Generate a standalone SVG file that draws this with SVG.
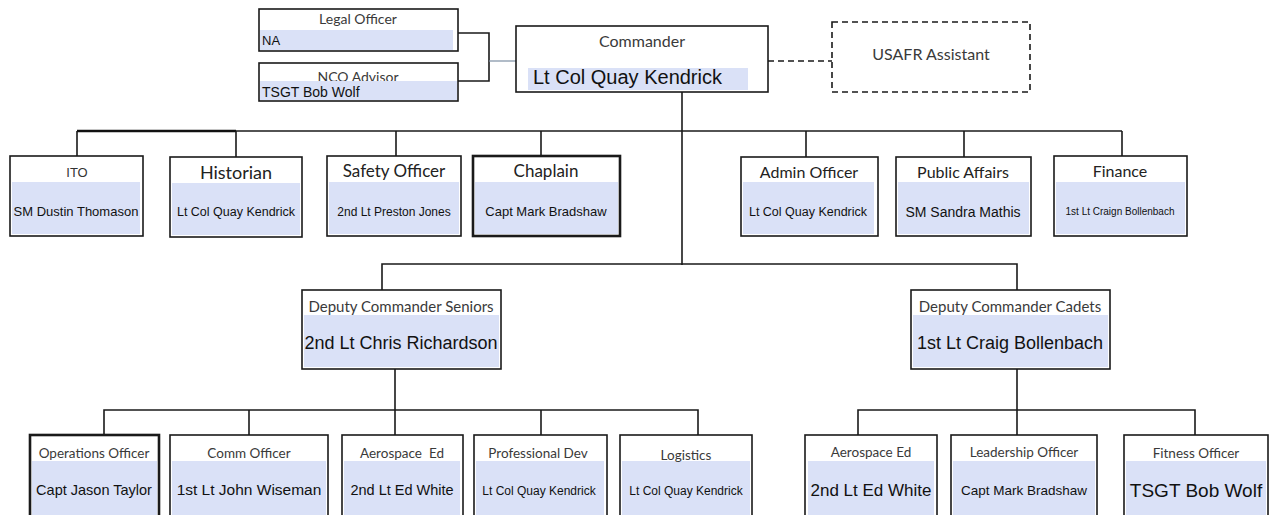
<svg xmlns="http://www.w3.org/2000/svg" width="1274" height="515" viewBox="0 0 1274 515">
<defs>
<style>
.box{fill:#fff;stroke:#1a1a1a;stroke-width:1.6}
.thick{stroke-width:2.6}
.fill{fill:#dae1f7}
.hd{font-family:Lato,"Open Sans",sans-serif;fill:#3a3a3a;text-anchor:middle}
.nm{font-family:"Liberation Sans",Arial,sans-serif;fill:#111;text-anchor:middle}
.st{text-anchor:start}
.ln{fill:none;stroke:#1a1a1a;stroke-width:1.6}
</style>
</defs>
<rect width="1274" height="515" fill="#fff"/>
<g id="connectors">
<path class="ln" d="M453 33H489V81H458"/>
<path d="M489 61H516" fill="none" stroke="#7d8fa3" stroke-width="1.2"/>
<path class="ln" d="M768 61H832" stroke-dasharray="6 4"/>
<path class="ln" d="M682 92V265"/>
<path d="M77 131H236" fill="none" stroke="#111" stroke-width="2.6"/>
<path class="ln" d="M236 131H1122" stroke="#333"/>
<path class="ln" d="M77 131V156M236 131V157M396 131V156M541 131V156M806 131V157M964 131V157M1122 131V156"/>
<path class="ln" d="M382 290V264H1017V290"/>
<path class="ln" d="M395 369V410M104 435V410H698V435M249 410V435M395 410V435M541 410V435"/>
<path class="ln" d="M1017 369V435M858 435V410H1195V435"/>
</g>
<g id="legal">
<rect class="box" x="259" y="9" width="199" height="42"/>
<rect class="fill" x="260" y="30" width="193" height="20"/>
<text class="hd" x="358" y="24" font-size="14">Legal Officer</text>
<text class="nm st" x="262" y="45" font-size="13">NA</text>
</g>
<g id="nco">
<rect class="box" x="259" y="63" width="199" height="38"/>
<text class="hd" x="358" y="82" font-size="14">NCO Advisor</text>
<rect class="fill" x="260" y="81" width="197" height="19"/>
<text class="nm st" x="262" y="97" font-size="14">TSGT Bob Wolf</text>
</g>
<g id="commander">
<rect class="box" x="516" y="26" width="252" height="66"/>
<rect class="fill" x="528" y="68" width="220" height="22"/>
<text class="hd" x="642" y="47" font-size="16">Commander</text>
<text class="nm st" x="533" y="84" font-size="20">Lt Col Quay Kendrick</text>
</g>
<g id="usafr">
<rect x="832" y="22" width="198" height="70" fill="#fff" stroke="#1a1a1a" stroke-width="1.6" stroke-dasharray="6 4"/>
<text class="hd" x="931" y="60" font-size="16">USAFR Assistant</text>
</g>
<g id="ito">
<rect class="box" x="10" y="156" width="133" height="80"/>
<rect class="fill" x="12" y="182" width="128" height="52"/>
<text class="nm" x="77" y="177" font-size="13" style="fill:#333">ITO</text>
<text class="nm" x="76" y="216" font-size="13">SM Dustin Thomason</text>
</g>
<g id="historian">
<rect class="box" x="170" y="157" width="132" height="80"/>
<rect class="fill" x="172" y="183" width="128" height="52"/>
<text class="hd" x="236" y="179" font-size="18" style="fill:#222">Historian</text>
<text class="nm" x="236" y="216" font-size="12.5">Lt Col Quay Kendrick</text>
</g>
<g id="safety">
<rect class="box" x="327" y="156" width="134" height="80"/>
<rect class="fill" x="329" y="182" width="130" height="52"/>
<text class="hd" x="394" y="177" font-size="17" style="fill:#222">Safety Officer</text>
<text class="nm" x="394" y="216" font-size="12">2nd Lt Preston Jones</text>
</g>
<g id="chaplain">
<rect class="box thick" x="473" y="156" width="147" height="80"/>
<rect class="fill" x="475" y="182" width="143" height="52"/>
<text class="hd" x="546" y="177" font-size="17" style="fill:#222">Chaplain</text>
<text class="nm" x="546" y="216" font-size="13">Capt Mark Bradshaw</text>
</g>
<g id="admin">
<rect class="box" x="741" y="157" width="137" height="79"/>
<rect class="fill" x="743" y="182" width="131" height="52"/>
<text class="hd" x="809" y="178" font-size="16" style="fill:#222">Admin Officer</text>
<text class="nm" x="808" y="216" font-size="12.5">Lt Col Quay Kendrick</text>
</g>
<g id="publicaffairs">
<rect class="box" x="896" y="157" width="135" height="79"/>
<rect class="fill" x="898" y="182" width="131" height="52"/>
<text class="hd" x="963" y="178" font-size="16" style="fill:#222">Public Affairs</text>
<text class="nm" x="963" y="217" font-size="14">SM Sandra Mathis</text>
</g>
<g id="finance">
<rect class="box" x="1054" y="156" width="133" height="80"/>
<rect class="fill" x="1056" y="182" width="129" height="52"/>
<text class="hd" x="1120" y="177" font-size="16" style="fill:#222">Finance</text>
<text class="nm" x="1120" y="215" font-size="10">1st Lt Craign Bollenbach</text>
</g>
<g id="dep-seniors">
<rect class="box" x="302" y="290" width="199" height="79"/>
<rect class="fill" x="304" y="315" width="195" height="52"/>
<text class="hd" x="401" y="312" font-size="15">Deputy Commander Seniors</text>
<text class="nm" x="401" y="349" font-size="18">2nd Lt Chris Richardson</text>
</g>
<g id="dep-cadets">
<rect class="box" x="911" y="290" width="199" height="79"/>
<rect class="fill" x="913" y="315" width="195" height="52"/>
<text class="hd" x="1010" y="312" font-size="15">Deputy Commander Cadets</text>
<text class="nm" x="1010" y="349" font-size="18">1st Lt Craig Bollenbach</text>
</g>
<g id="operations">
<rect class="box thick" x="30" y="435" width="129" height="90"/>
<rect class="fill" x="32" y="461" width="125" height="60"/>
<text class="hd" x="94" y="458" font-size="13.5">Operations Officer</text>
<text class="nm" x="94" y="495" font-size="14.5">Capt Jason Taylor</text>
</g>
<g id="comm">
<rect class="box" x="170" y="435" width="158" height="90"/>
<rect class="fill" x="172" y="461" width="154" height="60"/>
<text class="hd" x="249" y="458" font-size="13.5">Comm Officer</text>
<text class="nm" x="249" y="495" font-size="15.5">1st Lt John Wiseman</text>
</g>
<g id="aero-seniors">
<rect class="box" x="342" y="435" width="121" height="90"/>
<rect class="fill" x="344" y="461" width="116" height="60"/>
<text class="hd" x="402" y="458" font-size="13.5" xml:space="preserve">Aerospace  Ed</text>
<text class="nm" x="402" y="495" font-size="14.5">2nd Lt Ed White</text>
</g>
<g id="profdev">
<rect class="box" x="474" y="435" width="133" height="90"/>
<rect class="fill" x="476" y="461" width="128" height="60"/>
<text class="hd" x="538" y="458" font-size="13.5">Professional Dev</text>
<text class="nm" x="539" y="495" font-size="12">Lt Col Quay Kendrick</text>
</g>
<g id="logistics">
<rect class="box" x="620" y="435" width="132" height="90"/>
<rect class="fill" x="622" y="461" width="128" height="60"/>
<text class="hd" x="686" y="460" font-size="13.5">Logistics</text>
<text class="nm" x="686" y="495" font-size="12">Lt Col Quay Kendrick</text>
</g>
<g id="aero-cadets">
<rect class="box" x="805" y="435" width="132" height="90"/>
<rect class="fill" x="808" y="461" width="126" height="60"/>
<text class="hd" x="871" y="457" font-size="13.5">Aerospace Ed</text>
<text class="nm" x="871" y="496" font-size="17">2nd Lt Ed White</text>
</g>
<g id="leadership">
<rect class="box" x="951" y="435" width="146" height="90"/>
<rect class="fill" x="953" y="461" width="142" height="60"/>
<text class="hd" x="1024" y="457" font-size="13.5">Leadership Officer</text>
<text class="nm" x="1024" y="495" font-size="13.5">Capt Mark Bradshaw</text>
</g>
<g id="fitness">
<rect class="box" x="1124" y="435" width="144" height="90"/>
<rect class="fill" x="1126" y="461" width="140" height="60"/>
<text class="hd" x="1196" y="458" font-size="13.5">Fitness Officer</text>
<text class="nm" x="1196" y="497" font-size="19">TSGT Bob Wolf</text>
</g>
</svg>
